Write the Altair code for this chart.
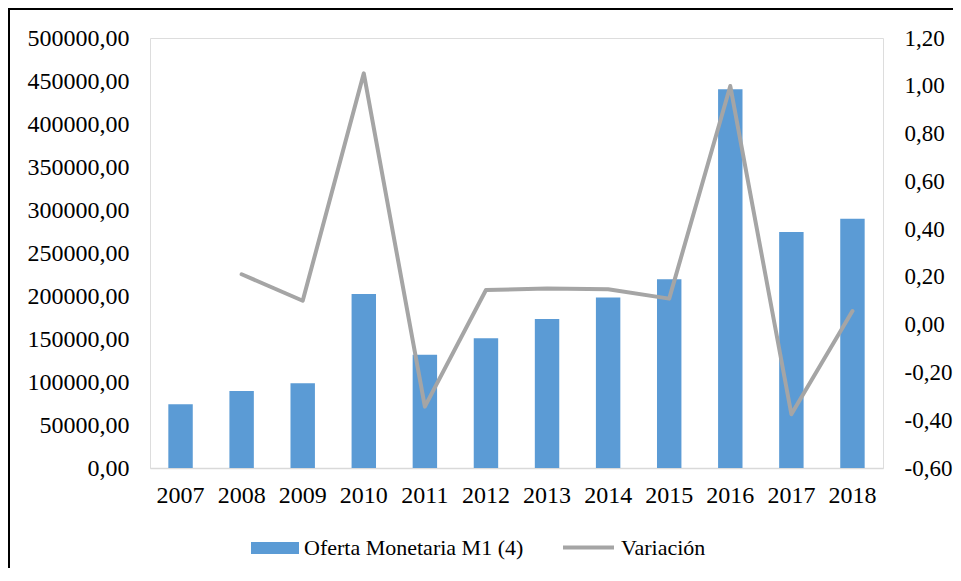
import altair as alt
import pandas as pd

years = ["2007", "2008", "2009", "2010", "2011", "2012", "2013", "2014", "2015", "2016", "2017", "2018"]
m1 = [74000, 89500, 98500, 202300, 131800, 150800, 173300, 198400, 219400, 440300, 274400, 289900]
variacion = [None, 0.211, 0.100, 1.052, -0.343, 0.145, 0.151, 0.148, 0.109, 0.999, -0.375, 0.057]
left_ticks = [0, 50000, 100000, 150000, 200000, 250000, 300000, 350000, 400000, 450000, 500000]
right_ticks = [-0.6, -0.4, -0.2, 0.0, 0.2, 0.4, 0.6, 0.8, 1.0, 1.2]
serie_bar = "Oferta Monetaria M1 (4)"
serie_line = "Variación"

df = pd.DataFrame({"year": years, "m1": m1, "var": variacion})
df["s_bar"] = serie_bar
df["s_line"] = serie_line

FONT = "Liberation Serif"
FS = 24
LFS = 22

x = alt.X("year:O", title="",
          scale=alt.Scale(paddingInner=0.6, paddingOuter=0.3),
          axis=alt.Axis(labelAngle=0, labelFont=FONT, labelFontSize=FS, labelColor="black",
                        ticks=False, tickSize=0, labelPadding=15,
                        domainColor="#D9D9D9", domainWidth=1.5))

border = alt.Chart(alt.Data(values=[{"b": 1}])).mark_rect(
    fillOpacity=0, stroke="black", strokeWidth=2
).encode(x=alt.value(-141), x2=alt.value(900), y=alt.value(-29), y2=alt.value(700))

bars = alt.Chart(df).mark_bar(color="#5B9BD5").encode(
    x=x,
    y=alt.Y("m1:Q", title="",
            scale=alt.Scale(domain=[0, 500000]),
            axis=alt.Axis(values=left_ticks, domain=False, ticks=False, tickSize=0, grid=False,
                          labelFont=FONT, labelFontSize=FS, labelColor="black", labelPadding=21,
                          labelExpr="replace(format(datum.value, '.2f'), '.', ',')")),
    color=alt.Color("s_bar:N", title="",
                    scale=alt.Scale(domain=[serie_bar], range=["#5B9BD5"]),
                    legend=alt.Legend(orient="none", legendX=101, legendY=486, padding=0,
                                      symbolType="M-1,-0.25H1V0.25H-1Z", symbolSize=2304,
                                      symbolStrokeWidth=0, labelOffset=5, labelLimit=500,
                                      labelFont=FONT, labelFontSize=LFS, labelColor="black")),
)

line = alt.Chart(df).mark_line(strokeWidth=4, strokeCap="round", strokeJoin="round").encode(
    x=x,
    y=alt.Y("var:Q", title="",
            scale=alt.Scale(domain=[-0.6, 1.2]),
            axis=alt.Axis(orient="right", values=right_ticks, domain=False, ticks=False, tickSize=0,
                          grid=False, labelFont=FONT, labelFontSize=23, labelColor="black",
                          labelPadding=21,
                          labelExpr="replace(replace(format(datum.value, '.2f'), '.', ','), '\u2212', '-')")),
    color=alt.Color("s_line:N", title="",
                    scale=alt.Scale(domain=[serie_line], range=["#A5A5A5"]),
                    legend=alt.Legend(orient="none", legendX=411, legendY=482, padding=0,
                                      symbolType="stroke", symbolSize=2601, symbolStrokeWidth=4,
                                      labelOffset=5, labelLimit=500,
                                      labelFont=FONT, labelFontSize=LFS, labelColor="black")),
)

chart = alt.layer(border, bars, line).resolve_scale(
    y="independent", color="independent"
).resolve_legend(color="independent").properties(
    width=733, height=430,
    autosize=alt.AutoSizeParams(type="none"),
    padding={"left": 142, "top": 30, "right": 70, "bottom": 100},
).configure_view(stroke=None).configure(background="white")

chart.save("out.html", embed_options={"renderer": "svg", "actions": False})
